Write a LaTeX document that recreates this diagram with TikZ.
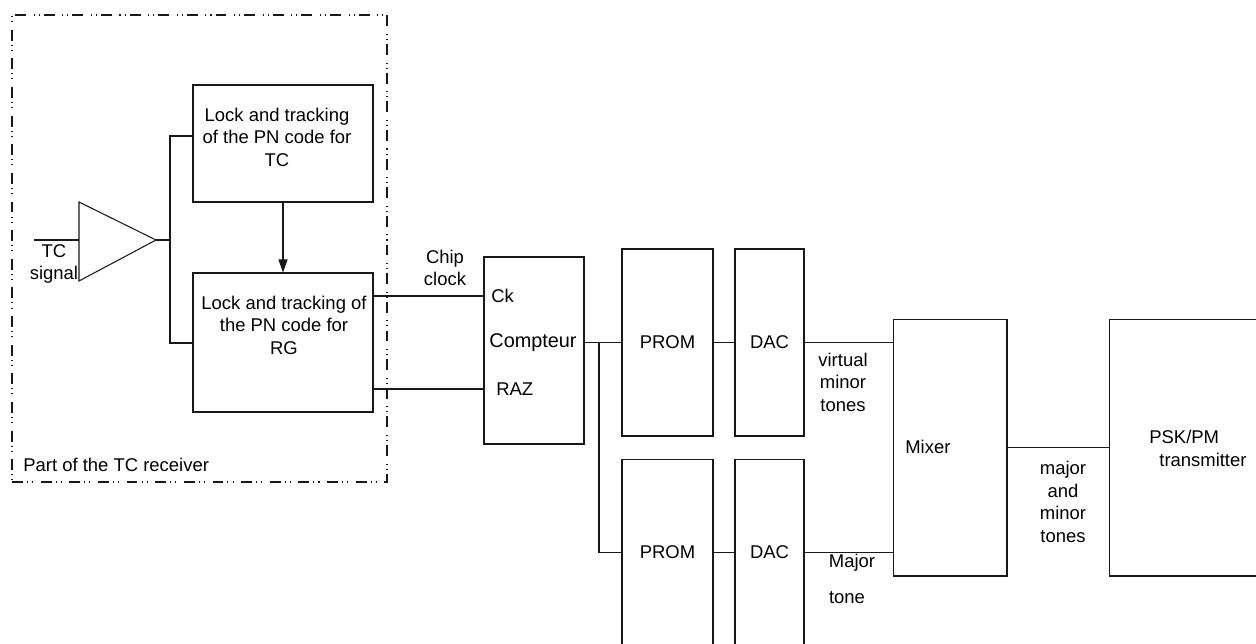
\documentclass[tikz,border=0pt]{standalone}
\usepackage{fontspec}
\setmainfont{Liberation Sans}
\usepackage{tikz}
\usetikzlibrary{arrows.meta, positioning, calc}
\definecolor{mydark}{RGB}{25,25,25}
\newcommand{\lblfont}{\fontsize{10.5}{12.8}\selectfont}
\tikzset{
  block/.style={rectangle, draw=mydark, line width=0.6pt, inner sep=0pt,
    align=center, font=\lblfont},
  rxframe/.style={rectangle, draw=mydark, line width=0.7pt, inner sep=0pt,
    dash pattern=on 6.2pt off 2.3pt on 0.6pt off 2.3pt on 0.6pt off 4.3pt},
  lbl/.style={align=center, inner sep=0pt, font=\lblfont},
  wire/.style={line width=0.6pt, color=mydark},
  arrow/.style={-{Triangle[width=1.8mm,length=2.6mm]}, line width=0.6pt, color=mydark}
}

\begin{document}
\begin{tikzpicture}[x=0.02cm, y=-0.02cm]
  \useasboundingbox (0,0) rectangle (1256,643);
  \clip (0,0) rectangle (1256,643);

  % Receiver part
  \node[rxframe, minimum width=7.5cm, minimum height=9.34cm] (rx) at (199.5,248.5) {};
  \node[lbl, anchor=west] (rxtxt) at (23,465) {Part of the TC receiver};

  \node[block, minimum width=3.6cm, minimum height=2.34cm] (tcbox) at (283,143.5) {};
  \node[block, minimum width=3.6cm, minimum height=2.78cm] (rgbox) at (283,342.5) {};
  \node[lbl] (tctxt) at (277,137) {Lock and tracking\\of the PN code for\\TC};
  \node[lbl] (rgtxt) at (284,325) {Lock and tracking of\\the PN code for\\RG};
  \draw[arrow] (tcbox) -- (rgbox);

  % Amplifier
  \coordinate (ampA) at (79,202);
  \coordinate (ampB) at (79,281);
  \coordinate (amptip) at (156,240);
  \draw[wire] (ampA) -- (amptip) -- (ampB) -- cycle;
  \coordinate (tcin) at (34,240);
  \draw[wire] (tcin) -- (tcin -| ampA);
  \node[lbl] (sigtxt) at (54,264) {TC\\signal};

  % Bus to both loops
  \coordinate (bustop) at (170,136);
  \coordinate (busbot) at (170,343);
  \draw[wire] (amptip) -- (amptip -| bustop);
  \draw[wire] (tcbox.west |- bustop) -- (bustop) -- (busbot) -- (busbot -| rgbox.west);

  % Counter
  \node[block, minimum width=2cm, minimum height=3.74cm] (cnt) at (534,350.5) {};
  \node[lbl, font=\fontsize{11.3}{13}\selectfont] (cnttxt) at (533,343) {Compteur};
  \node[lbl, anchor=west] (cktxt) at (491,296) {Ck};
  \node[lbl, anchor=west] (raztxt) at (496,389) {RAZ};
  \node[lbl] (chiptxt) at (445,268) {Chip\\clock};
  \draw[wire] ([yshift=0.93cm]rgbox.east) -- ([yshift=0.93cm]rgbox.east -| cnt.west);
  \draw[wire] ([yshift=-0.93cm]rgbox.east) -- ([yshift=-0.93cm]rgbox.east -| cnt.west);

  % PROM and DAC rows
  \node[block, minimum width=1.82cm, minimum height=3.74cm] (prom1) at (667.5,342.5) {PROM};
  \node[block, minimum width=1.38cm, minimum height=3.74cm] (dac1) at (769.5,342.5) {DAC};
  \node[block, minimum width=1.82cm, minimum height=3.74cm] (prom2) at (667.5,552.5) {PROM};
  \node[block, minimum width=1.38cm, minimum height=3.74cm] (dac2) at (769.5,552.5) {DAC};
  \draw[wire] (cnt.east |- prom1.west) -- (prom1.west);
  \coordinate (split) at (599,342.5);
  \draw[wire] (split) |- (prom2.west);
  \draw[wire] (prom1) -- (dac1);
  \draw[wire] (prom2) -- (dac2);

  % Mixer
  \node[block, minimum width=2.28cm, minimum height=5.14cm] (mixer) at (950,447.5) {};
  \node[lbl, anchor=west] (mixtxt) at (905,447) {Mixer};
  \draw[wire] (dac1.east) -- (dac1.east -| mixer.west);
  \draw[wire] (dac2.east) -- (dac2.east -| mixer.west);
  \node[lbl] (vmtxt) at (843,382) {virtual\\minor\\tones};
  \node[lbl] (majtxt) at (852,563) {Major};
  \node[lbl] (tonetxt) at (847,598) {tone};

  % Transmitter
  \node[block, minimum width=3.82cm, minimum height=5.14cm] (psk) at (1204.5,447.5) {};
  \node[lbl, anchor=west] (psktxt) at (1149,437) {PSK/PM};
  \node[lbl, anchor=west] (trtxt) at (1159,460) {transmitter};
  \draw[wire] (mixer.east) -- (psk.west);
  \node[lbl] (mmtxt) at (1063,502) {major\\and\\minor\\tones};
\end{tikzpicture}
\end{document}
